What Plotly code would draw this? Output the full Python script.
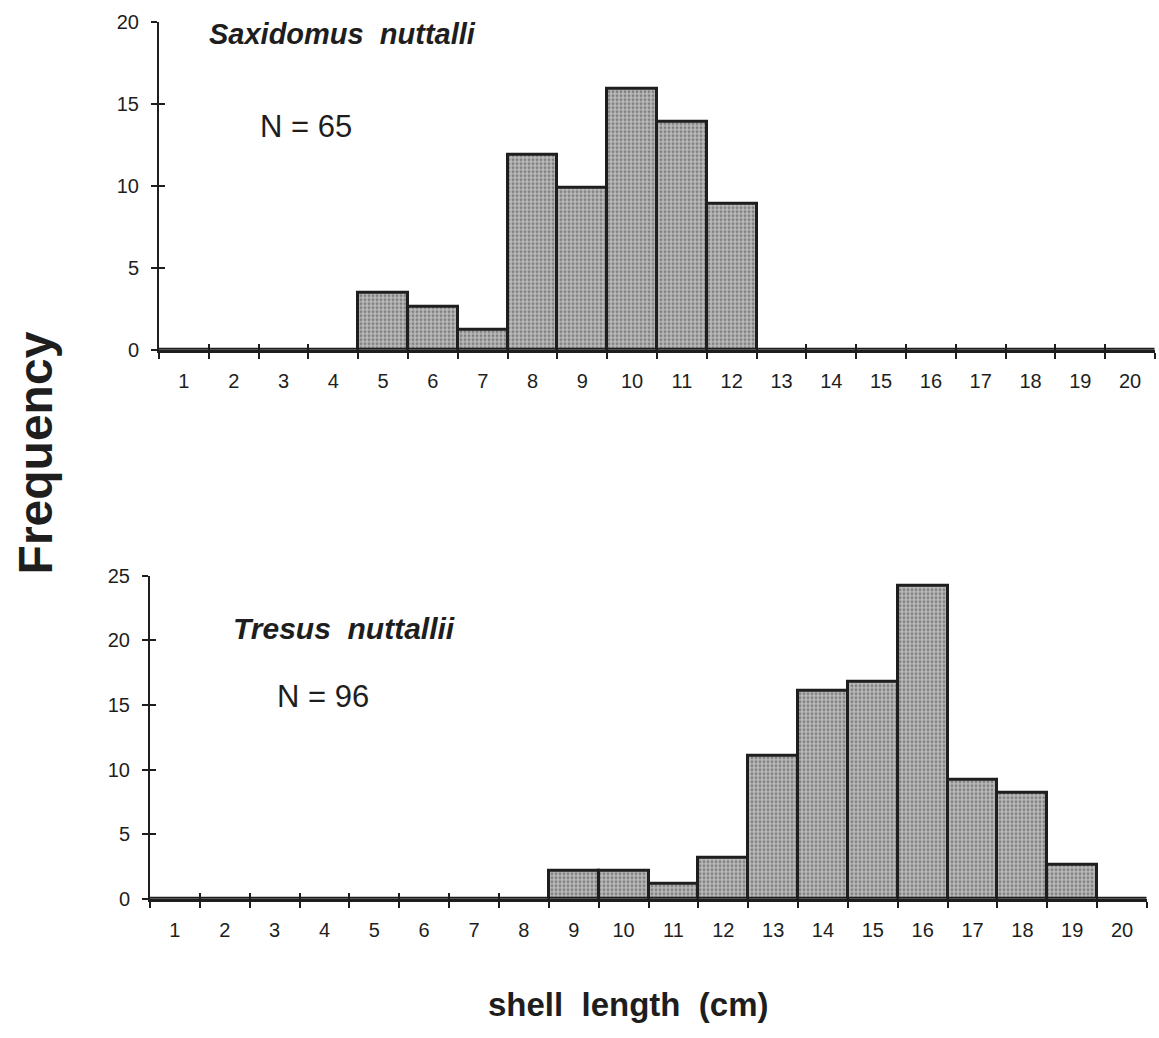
import plotly.graph_objects as go

# ---- data ----
bins = list(range(1, 21))
bin_labels = [str(b) for b in bins]
bin_edges = [b - 0.5 for b in bins] + [20.5]

saxidomus_freq = [0, 0, 0, 0, 3.5, 2.6, 1.2, 11.9, 9.9, 15.9, 13.9, 8.9,
                  0, 0, 0, 0, 0, 0, 0, 0]
tresus_freq = [0, 0, 0, 0, 0, 0, 0, 0, 2.2, 2.2, 1.2, 3.2, 11.1, 16.1,
               16.8, 24.2, 9.2, 8.2, 2.6, 0]

top_yticks = [0, 5, 10, 15, 20]
bottom_yticks = [0, 5, 10, 15, 20, 25]

title_top = "Saxidomus\u00a0\u00a0nuttalli"
n_top = "N = 65"
title_bottom = "Tresus\u00a0\u00a0nuttallii"
n_bottom = "N = 96"
y_title = "Frequency"
x_title = "shell\u00a0\u00a0length\u00a0\u00a0(cm)"

W, H = 1159, 1038
FONT = "Liberation Sans, Arial, Helvetica, sans-serif"
INK = "#1e1e1e"


def px_x(p):
    return p / W


def px_y(p):
    return 1 - p / H


bar_style = dict(
    color="#a4a4a4",
    line=dict(color=INK, width=3),
    pattern=dict(shape=".", fgcolor="#474747", bgcolor="#bababa",
                 size=4, solidity=0.42),
)

fig = go.Figure()
fig.add_trace(go.Bar(x=bins, y=saxidomus_freq, xaxis="x", yaxis="y",
                     marker=bar_style, width=1.0, showlegend=False,
                     hoverinfo="x+y"))
fig.add_trace(go.Bar(x=bins, y=tresus_freq, xaxis="x2", yaxis="y2",
                     marker=bar_style, width=1.0, showlegend=False,
                     hoverinfo="x+y"))
# invisible helpers so the overlay axes (inner halves of the crossing ticks) render
fig.add_trace(go.Scatter(x=[bins[0]], y=[0], xaxis="x3", yaxis="y3",
                         mode="markers", marker=dict(opacity=0),
                         hoverinfo="skip", showlegend=False))
fig.add_trace(go.Scatter(x=[bins[0]], y=[0], xaxis="x4", yaxis="y4",
                         mode="markers", marker=dict(opacity=0),
                         hoverinfo="skip", showlegend=False))

top_xdom = [px_x(159), px_x(1155)]
top_ydom = [px_y(346), px_y(11)]
bot_xdom = [px_x(150), px_x(1147)]
bot_ydom = [px_y(907), px_y(577)]

tick_font = dict(family=FONT, size=20, color=INK)


def xaxis_main(dom, anchor):
    return dict(
        domain=dom, anchor=anchor, range=[0.5, 20.5], fixedrange=True,
        tickmode="array", tickvals=bins, ticktext=bin_labels, ticks="",
        ticklabelstandoff=11, tickfont=tick_font,
        showline=True, linewidth=3, linecolor=INK,
        showgrid=False, zeroline=False,
        minor=dict(tickmode="array", tickvals=bin_edges, ticks="outside",
                   ticklen=6, tickwidth=2, tickcolor=INK, showgrid=False),
    )


def xaxis_inner(dom, anchor, over):
    return dict(
        domain=dom, anchor=anchor, overlaying=over, range=[0.5, 20.5],
        tickmode="array", tickvals=bin_edges, ticks="inside", ticklen=6,
        tickwidth=2, tickcolor=INK, showticklabels=False, showline=False,
        showgrid=False, zeroline=False, fixedrange=True, side="bottom",
    )


def yaxis_main(dom, anchor, rng, tv):
    return dict(
        domain=dom, anchor=anchor, range=rng, fixedrange=True,
        tickmode="array", tickvals=tv, ticks="outside", ticklen=6,
        tickwidth=2, tickcolor=INK, ticklabelstandoff=8, tickfont=tick_font,
        showline=True, linewidth=2, linecolor=INK,
        showgrid=False, zeroline=False,
    )


def yaxis_inner(dom, anchor, over, rng, tv):
    return dict(
        domain=dom, anchor=anchor, overlaying=over, range=rng,
        tickmode="array", tickvals=tv, ticks="inside", ticklen=6,
        tickwidth=2, tickcolor=INK, showticklabels=False, showline=False,
        showgrid=False, zeroline=False, fixedrange=True, side="left",
    )


fig.update_layout(
    width=W, height=H, autosize=False,
    margin=dict(l=0, r=0, t=0, b=0),
    paper_bgcolor="white", plot_bgcolor="rgba(0,0,0,0)",
    bargap=0, showlegend=False,
    font=dict(family=FONT, color=INK),
    xaxis=xaxis_main(top_xdom, "y"),
    yaxis=yaxis_main(top_ydom, "x", [0, 20], top_yticks),
    xaxis2=xaxis_main(bot_xdom, "y2"),
    yaxis2=yaxis_main(bot_ydom, "x2", [0, 25], bottom_yticks),
    xaxis3=xaxis_inner(top_xdom, "y", "x"),
    yaxis3=yaxis_inner(top_ydom, "x", "y", [0, 20], top_yticks),
    xaxis4=xaxis_inner(bot_xdom, "y2", "x2"),
    yaxis4=yaxis_inner(bot_ydom, "x2", "y2", [0, 25], bottom_yticks),
)

annotations = [
    dict(text=title_top, x=px_x(207), y=px_y(23), xanchor="left",
         yanchor="middle",
         font=dict(family=FONT, size=29, weight="bold", style="italic",
                   color=INK)),
    dict(text=n_top, x=px_x(258), y=px_y(118), xanchor="left",
         yanchor="middle", font=dict(family=FONT, size=31, color=INK)),
    dict(text=title_bottom, x=px_x(231), y=px_y(631), xanchor="left",
         yanchor="middle",
         font=dict(family=FONT, size=30, weight="bold", style="italic",
                   color=INK)),
    dict(text=n_bottom, x=px_x(275), y=px_y(700), xanchor="left",
         yanchor="middle", font=dict(family=FONT, size=31, color=INK)),
    dict(text=y_title, x=px_x(35), y=px_y(452), xanchor="center",
         yanchor="middle", textangle=-90,
         font=dict(family=FONT, size=48, weight="bold", color=INK)),
    dict(text=x_title, x=px_x(628), y=px_y(1015), xanchor="center",
         yanchor="middle",
         font=dict(family=FONT, size=33, weight="bold", color=INK)),
]
for a in annotations:
    a.update(xref="paper", yref="paper", showarrow=False)
fig.update_layout(annotations=annotations)

fig.write_html("out.html")
